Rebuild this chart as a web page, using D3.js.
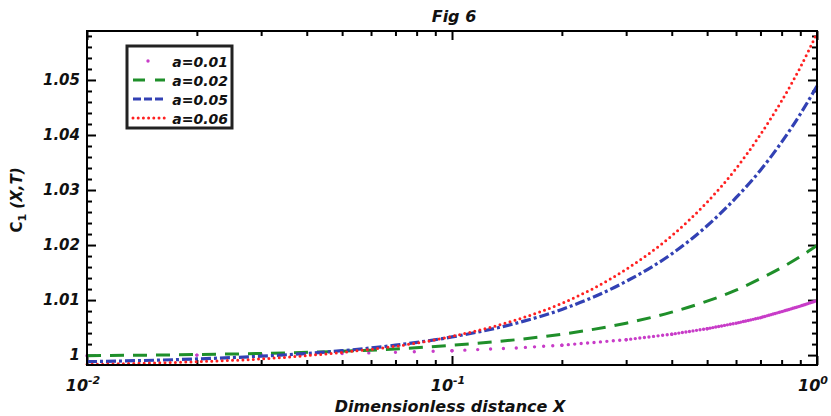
<!DOCTYPE html>
<html>
<head>
<meta charset="utf-8">
<script src="https://cdn.jsdelivr.net/npm/d3@7"></script>
<style>
  body { margin: 0; background: #fff; }
  svg text { font-family: "DejaVu Sans", sans-serif; font-weight: bold; font-style: italic; fill: #111; }
</style>
</head>
<body>
<svg id="chart" width="831" height="416"></svg>
<script>
// values
var xs = [0.01, 0.02, 0.03, 0.05, 0.07, 0.1, 0.15, 0.2, 0.3, 0.4, 0.5, 0.6, 0.7, 0.8, 0.9, 1.0];
var seriesNames = ["a=0.01", "a=0.02", "a=0.05", "a=0.06"];
var a001 = [0.9999, 1.0000, 1.0001, 1.0003, 1.0005, 1.0008, 1.0013, 1.0018, 1.0028, 1.0038, 1.0048, 1.0058, 1.0068, 1.0079, 1.0089, 1.0099];
var a002 = [0.9999, 1.0001, 1.0003, 1.0007, 1.0011, 1.0018, 1.0028, 1.0038, 1.0058, 1.0078, 1.0098, 1.0118, 1.0139, 1.0159, 1.0179, 1.0199];
var a005 = [0.9988, 0.9993, 0.9998, 1.0008, 1.0018, 1.0033, 1.0058, 1.0083, 1.0134, 1.0184, 1.0235, 1.0286, 1.0336, 1.0387, 1.0438, 1.0489];
var a006 = [0.9983, 0.9988, 0.9993, 1.0005, 1.0016, 1.0034, 1.0064, 1.0094, 1.0156, 1.0217, 1.0278, 1.0339, 1.0401, 1.0462, 1.0523, 1.0585];
var yTicks = [1, 1.01, 1.02, 1.03, 1.04, 1.05];
var xTicks = [0.01, 0.1, 1];
var xTickExp = ["-2", "-1", "0"];

var margin = { top: 31, right: 14, bottom: 51, left: 87 };
var W = 831, H = 416;
var svg = d3.select("#chart");
var w = W - margin.left - margin.right;
var h = H - margin.top - margin.bottom;
var g = svg.append("g").attr("transform", "translate(" + margin.left + "," + margin.top + ")");

var x = d3.scaleLog().domain([0.01, 1]).range([0, w]);
var y = d3.scaleLinear().domain([0.9982, 1.0589]).range([h, 0]);

// minor tick values
var xMinor = [];
[0.01, 0.1].forEach(function (d) { for (var k = 2; k <= 9; k++) xMinor.push(d * k); });
var yMinor = d3.range(0, 30).map(function (i) { return +(1 + i * 0.002).toFixed(4); })
  .filter(function (v) { return v <= 1.0589 && Math.abs(v * 100 - Math.round(v * 100)) > 1e-6; });

function tickAxis(axis, vals, size) {
  return axis.tickValues(vals).tickSize(size).tickFormat("");
}

g.append("g").attr("class", "ax").attr("transform", "translate(0," + h + ")").call(tickAxis(d3.axisBottom(x), xMinor, -5));
g.append("g").attr("class", "ax").call(tickAxis(d3.axisTop(x), xMinor, -5));
g.append("g").attr("class", "ax").attr("transform", "translate(0," + h + ")").call(tickAxis(d3.axisBottom(x), xTicks, -9));
g.append("g").attr("class", "ax").call(tickAxis(d3.axisTop(x), xTicks, -9));
g.append("g").attr("class", "ax").call(tickAxis(d3.axisLeft(y), yMinor, -5));
g.append("g").attr("class", "ax").attr("transform", "translate(" + w + ",0)").call(tickAxis(d3.axisRight(y), yMinor, -5));
g.append("g").attr("class", "ax").call(tickAxis(d3.axisLeft(y), yTicks, -9));
g.append("g").attr("class", "ax").attr("transform", "translate(" + w + ",0)").call(tickAxis(d3.axisRight(y), yTicks, -9));
g.selectAll(".ax .domain").remove();
g.selectAll(".ax line").attr("stroke", "#000").attr("stroke-width", 2);

// y tick labels
g.selectAll(".ylab").data(yTicks).join("text").attr("class", "ylab")
  .attr("x", -7).attr("y", function (d) { return y(d) + 5; })
  .attr("text-anchor", "end").attr("font-size", 15)
  .text(function (d) { return d === 1 ? "1" : d3.format(".2f")(d); });

// x tick labels
var xl = g.selectAll(".xlab").data(xTicks).join("text").attr("class", "xlab")
  .attr("x", function (d) { return x(d) - 4; }).attr("y", h + 26)
  .attr("text-anchor", "middle").attr("font-size", 16);
xl.append("tspan").text("10");
xl.append("tspan").attr("dy", -7).attr("font-size", 11).text(function (d, i) { return xTickExp[i]; });

var line = d3.line().x(function (d) { return x(d[0]); }).y(function (d) { return y(d[1]); }).curve(d3.curveMonotoneX);
var clip = svg.append("clipPath").attr("id", "clip").append("rect")
  .attr("x", -2).attr("y", -3).attr("width", w + 4).attr("height", h + 3);
var plot = g.append("g").attr("clip-path", "url(#clip)");

function pts(vals) { return xs.map(function (d, i) { return [d, vals[i]]; }); }

// a=0.01 : marker dots every 0.01 in X, so they crowd together on the log axis
var magenta = "#c83cc8";
var p1 = pts(a001);
for (var i = 0; i < p1.length - 1; i++) {
  var seg = plot.append("path").datum([p1[i], p1[i + 1]]).attr("d", line)
    .attr("fill", "none").attr("stroke", magenta).attr("stroke-width", 3.4).attr("stroke-linecap", "round");
  var len = seg.node().getTotalLength();
  var n = Math.round((p1[i + 1][0] - p1[i][0]) / 0.01);
  seg.attr("stroke-dasharray", "0," + (len / n));
}

var green = "#1f8f2a", blue = "#3241b4", red = "#ff2020";
plot.append("path").datum(pts(a002)).attr("d", line).attr("fill", "none")
  .attr("stroke", green).attr("stroke-width", 3).attr("stroke-dasharray", "14,9");
plot.append("path").datum(pts(a005)).attr("d", line).attr("fill", "none")
  .attr("stroke", blue).attr("stroke-width", 3.2).attr("stroke-dasharray", "10,3,3,3");
plot.append("path").datum(pts(a006)).attr("d", line).attr("fill", "none")
  .attr("stroke", red).attr("stroke-width", 3).attr("stroke-linecap", "round").attr("stroke-dasharray", "0,5.2");

// frame
g.append("rect").attr("width", w).attr("height", h).attr("fill", "none").attr("stroke", "#000").attr("stroke-width", 2);

// legend
var lg = svg.append("g").attr("transform", "translate(127,46)");
lg.append("rect").attr("width", 105).attr("height", 82).attr("fill", "#fff").attr("stroke", "#222").attr("stroke-width", 3);
var legStyles = [
  { c: magenta, dash: "0,40", cap: "round", sw: 3.4, off: -15 },
  { c: green, dash: "12,10", cap: "butt", sw: 3, off: 0 },
  { c: blue, dash: "8,3,8,3", cap: "butt", sw: 3, off: 0 },
  { c: red, dash: "0,5.2", cap: "round", sw: 3, off: 0 }
];
seriesNames.forEach(function (s, i) {
  var yy = 15 + i * 19;
  var st = legStyles[i];
  lg.append("line").attr("x1", 6).attr("x2", 38).attr("y1", yy).attr("y2", yy)
    .attr("stroke", st.c).attr("stroke-width", st.sw).attr("stroke-linecap", st.cap)
    .attr("stroke-dasharray", st.dash).attr("stroke-dashoffset", st.off);
  lg.append("text").attr("x", 101).attr("y", yy + 6).attr("text-anchor", "end").attr("font-size", 14).text(s);
});

// titles
svg.append("text").attr("x", margin.left + w / 2 + 2).attr("y", 22).attr("text-anchor", "middle").attr("font-size", 16).text("Fig 6");
svg.append("text").attr("x", margin.left + w / 2 - 2).attr("y", 412).attr("text-anchor", "middle").attr("font-size", 16).text("Dimensionless distance X");
var yl = svg.append("text").attr("transform", "translate(22," + (margin.top + h / 2 + 2) + ") rotate(-90)")
  .attr("text-anchor", "middle").attr("font-size", 15);
yl.append("tspan").attr("font-style", "normal").text("C");
yl.append("tspan").attr("dy", 4).attr("font-size", 11).attr("font-style", "normal").text("1");
yl.append("tspan").attr("dy", -4).text(" (X,T)");
</script>
</body>
</html>
